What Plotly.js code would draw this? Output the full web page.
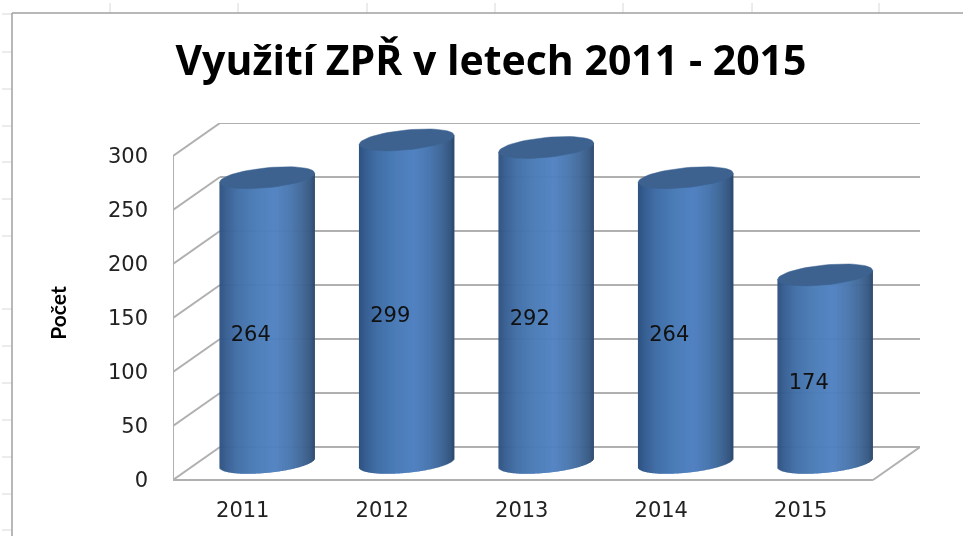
<!DOCTYPE html>
<html>
<head>
<meta charset="utf-8">
<script src="https://cdn.plot.ly/plotly-3.0.1.min.js"></script>
<style>
html, body { margin: 0; padding: 0; background: #fff; }
#chart { width: 963px; height: 536px; filter: blur(0.4px); }
</style>
</head>
<body>
<div id="chart"></div>
<script>
// Chart values
var years  = ["2011", "2012", "2013", "2014", "2015"];
var counts = [264, 299, 292, 264, 174];
var y_ticks = [0, 50, 100, 150, 200, 250, 300];

// Pixel frame of the plot area
var plot_l = 173, plot_r = 920, plot_t = 123, plot_b = 503;
var zero_px = 480;       // where value 0 sits on the front plane
var cat_px  = 139.5;     // pixels per category
var unit_px = 1.08;      // pixels per value unit

// Fake 3d depth of the floor, in axis units
var depth_x = 47 / cat_px;
var depth_y = 33 / unit_px;

// Cylinder shape, pixels turned into axis units
var cyl_rx   = 47.5 / cat_px;
var cyl_tilt = 4.5 / unit_px;
var cyl_ry   = 10 / unit_px;
var cyl_depth = 0.52;
var strips = 95;

var x_range = [-0.5, -0.5 + (plot_r - plot_l) / cat_px];
var y_range = [(zero_px - plot_b) / unit_px, (zero_px - plot_t) / unit_px];

var wall_color = "#b0b0b0";

// Colour stops across the cylinder
var shade_pos = [0, 0.08, 0.2, 0.4, 0.58, 0.75, 0.88, 0.96, 1];
var shade_rgb = [
    [46, 82, 128], [56, 96, 148], [66, 112, 168], [76, 125, 184], [81, 130, 194],
    [74, 119, 174], [64, 103, 150], [54, 88, 130], [44, 72, 108]
];

// Blue shading across the cylinder, u goes from -1 to 1
function shade(u) {
    var t = (u + 1) / 2;
    var n = 0;
    while (n < shade_pos.length - 2 && t > shade_pos[n + 1]) n++;
    var k = (t - shade_pos[n]) / (shade_pos[n + 1] - shade_pos[n]);
    var c = [0, 1, 2].map(function (i) {
        return Math.round(shade_rgb[n][i] + (shade_rgb[n + 1][i] - shade_rgb[n][i]) * k);
    });
    return "rgb(" + c.join(",") + ")";
}

function cylinder_trace(i) {
    var cx = i + cyl_depth * depth_x;
    var c0 = cyl_depth * depth_y;
    var xs = [], base = [], h = [], colors = [];
    for (var s = 0; s < strips; s++) {
        var u = -1 + 2 * (s + 0.5) / strips;
        var bottom = c0 + cyl_tilt * u - cyl_ry * Math.sqrt(1 - u * u);
        var top = c0 + counts[i] + cyl_tilt * u;
        xs.push(cx + cyl_rx * u);
        base.push(bottom);
        h.push(top - bottom);
        colors.push(shade(u));
    }
    return {
        type: "bar", x: xs, y: h, base: base,
        width: 1.5 * 2 * cyl_rx / strips,
        marker: {color: colors, line: {width: 0}},
        hoverinfo: "skip", showlegend: false
    };
}

function top_trace() {
    var xs = [], ys = [];
    for (var i = 0; i < years.length; i++) {
        var cx = i + cyl_depth * depth_x;
        var cy = cyl_depth * depth_y + counts[i];
        for (var a = 0; a <= 60; a++) {
            var t = a / 60 * 2 * Math.PI;
            xs.push(cx + cyl_rx * Math.cos(t));
            ys.push(cy + cyl_tilt * Math.cos(t) + cyl_ry * Math.sin(t));
        }
        xs.push(null);
        ys.push(null);
    }
    return {
        type: "scatter", mode: "lines", x: xs, y: ys, fill: "toself",
        fillcolor: "#3d6290", line: {color: "#3d6290", width: 0.5},
        hoverinfo: "skip", showlegend: false
    };
}

function label_trace() {
    return {
        type: "scatter", mode: "text",
        x: counts.map(function (v, i) { return i + 8 / cat_px; }),
        y: counts.map(function (v) { return 2 + v / 2; }),
        text: counts.map(String),
        textposition: "middle center",
        textfont: {family: "DejaVu Sans", size: 21, color: "#111"},
        hoverinfo: "skip", showlegend: false
    };
}

function line_shape(x0, y0, x1, y1, width) {
    return {
        type: "line", layer: "below", xref: "x", yref: "y",
        x0: x0, y0: y0, x1: x1, y1: y1,
        line: {color: wall_color, width: width}
    };
}

// Back wall, side wall and floor
function wall_shapes() {
    var shapes = [];
    var back_r = x_range[1];
    var front_r = back_r - depth_x;
    y_ticks.forEach(function (v) {
        shapes.push(line_shape(-0.5, v, -0.5 + depth_x, v + depth_y, 2));
        shapes.push(line_shape(-0.5 + depth_x, v + depth_y, back_r, v + depth_y, 2));
    });
    shapes.push(line_shape(-0.5, 0, -0.5, y_ticks[y_ticks.length - 1], 2));
    shapes.push(line_shape(-0.5, 0, front_r, 0, 2));
    shapes.push(line_shape(front_r, 0, back_r, depth_y, 2));
    return shapes;
}

// Spreadsheet frame around the pasted chart, in page pixels
function px_shape(x0, y0, x1, y1, color, width) {
    var w = plot_r - plot_l, h = plot_b - plot_t;
    return {
        type: "line", layer: "below", xref: "paper", yref: "paper",
        x0: (x0 - plot_l) / w, x1: (x1 - plot_l) / w,
        y0: (plot_b - y0) / h, y1: (plot_b - y1) / h,
        line: {color: color, width: width}
    };
}

function sheet_shapes() {
    var shapes = [];
    [110, 238, 367, 495, 623, 752, 879].forEach(function (x) {
        shapes.push(px_shape(x, 3, x, 13, "#d8d8d8", 1));
    });
    [14, 52, 89, 126, 162, 199, 236, 309, 346, 383, 420, 457, 494, 530].forEach(function (y) {
        shapes.push(px_shape(2, y, 12, y, "#d8d8d8", 1));
    });
    shapes.push(px_shape(12, 536, 12, 13, "#a0a0a0", 1.5));
    shapes.push(px_shape(12, 13, 963, 13, "#a0a0a0", 1.5));
    return shapes;
}

var traces = years.map(function (y, i) { return cylinder_trace(i); });
traces.push(top_trace());
traces.push(label_trace());

var layout = {
    width: 963,
    height: 536,
    margin: {l: plot_l, r: 963 - plot_r, t: plot_t, b: 536 - plot_b, pad: 0},
    paper_bgcolor: "#fff",
    plot_bgcolor: "rgba(0,0,0,0)",
    barmode: "overlay",
    showlegend: false,
    title: {
        text: "Využití ZPŘ v letech 2011 - 2015",
        font: {family: "Open Sans", size: 41, color: "#000", weight: 700},
        xref: "container", yref: "container",
        x: 491 / 963, y: 1 - 61 / 536,
        xanchor: "center", yanchor: "middle"
    },
    xaxis: {
        range: x_range,
        tickmode: "array",
        tickvals: years.map(function (y, i) { return i; }),
        ticktext: years,
        ticks: "",
        showgrid: false, zeroline: false, showline: false,
        tickfont: {family: "DejaVu Sans", size: 21, color: "#222"},
        ticklabelstandoff: -8
    },
    yaxis: {
        range: y_range,
        tickmode: "array",
        tickvals: y_ticks,
        ticktext: y_ticks.map(String),
        ticks: "",
        showgrid: false, zeroline: false, showline: false,
        tickfont: {family: "DejaVu Sans", size: 21, color: "#222"},
        ticklabelstandoff: 24,
        title: {
            text: "Počet",
            font: {family: "Lato", size: 21, color: "#000", weight: 700},
            standoff: 35
        }
    },
    shapes: wall_shapes().concat(sheet_shapes())
};

Plotly.newPlot("chart", traces, layout, {displayModeBar: false, staticPlot: true});
</script>
</body>
</html>
